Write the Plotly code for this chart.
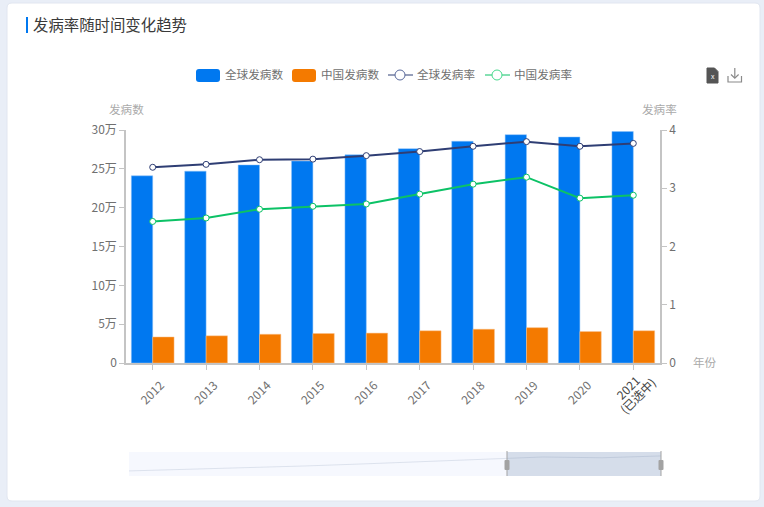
import plotly.graph_objects as go

years = ["2012", "2013", "2014", "2015", "2016", "2017", "2018", "2019", "2020", ""]
selected_year = ["2021", "(已选中)"]
global_cases = [241000, 247000, 255000, 260000, 268000, 276000, 285500, 294000, 291000, 298000]
china_cases = [33500, 35000, 37000, 38000, 38500, 41500, 43500, 45500, 40500, 41500]
global_rate = [3.36, 3.41, 3.49, 3.50, 3.56, 3.63, 3.72, 3.80, 3.72, 3.77]
china_rate = [2.43, 2.49, 2.64, 2.69, 2.73, 2.90, 3.07, 3.19, 2.83, 2.88]
left_ticks = [0, 50000, 100000, 150000, 200000, 250000, 300000]
left_labels = ["0", "5万", "10万", "15万", "20万", "25万", "30万"]
right_ticks = [0, 1, 2, 3, 4]

W, H = 764, 507
FONT = "Noto Sans CJK SC"
BLUE, ORANGE, NAVY, GREEN = "#0078f0", "#f47a00", "#2f3e74", "#0cc266"
AXIS = "#c4c4c4"
TXT = "#707070"

def px(x): return x / W
def py(y): return 1 - y / H

def rect(x0, y0, x1, y1, fill, layer="below"):
    return dict(type="rect", xref="paper", yref="paper", x0=px(x0), x1=px(x1), y0=py(y0), y1=py(y1),
                fillcolor=fill, line_width=0, layer=layer)

def line(x0, y0, x1, y1, color, width=1, layer="above"):
    return dict(type="line", xref="paper", yref="paper", x0=px(x0), x1=px(x1), y0=py(y0), y1=py(y1),
                line=dict(color=color, width=width), layer=layer)

def rounded(x0, y0, x1, y1, r, fill, layer="below", stroke=None):
    p = (f"M{px(x0+r)},{py(y0)} L{px(x1-r)},{py(y0)} Q{px(x1)},{py(y0)} {px(x1)},{py(y0+r)} "
         f"L{px(x1)},{py(y1-r)} Q{px(x1)},{py(y1)} {px(x1-r)},{py(y1)} "
         f"L{px(x0+r)},{py(y1)} Q{px(x0)},{py(y1)} {px(x0)},{py(y1-r)} "
         f"L{px(x0)},{py(y0+r)} Q{px(x0)},{py(y0)} {px(x0+r)},{py(y0)} Z")
    return dict(type="path", xref="paper", yref="paper", path=p, fillcolor=fill,
                line=dict(color=stroke or fill, width=1 if stroke else 0), layer=layer)

def poly(points, fill=None, color=None, width=1):
    p = "M" + " L".join(f"{px(x)},{py(y)}" for x, y in points)
    if fill:
        p += " Z"
    return dict(type="path", xref="paper", yref="paper", path=p, fillcolor=fill or "rgba(0,0,0,0)",
                line=dict(color=color or fill, width=width), layer="above")

def circle(cx, cy, r, stroke):
    return dict(type="circle", xref="paper", yref="paper", x0=px(cx-r), x1=px(cx+r), y0=py(cy-r), y1=py(cy+r),
                fillcolor="white", line=dict(color=stroke, width=1), layer="above")

def label(x, y, text, size=11.6, color=TXT, anchor="left", angle=0):
    return dict(xref="paper", yref="paper", x=px(x), y=py(y), text=text, showarrow=False, xanchor=anchor,
                yanchor="middle", font=dict(family=FONT, size=size, color=color), borderpad=0, borderwidth=0,
                textangle=angle)

fig = go.Figure()
fig.add_bar(x=list(range(10)), y=global_cases, name="全球发病数", marker=dict(color=BLUE, line=dict(color="#8cc2f8", width=0.5)))
fig.add_bar(x=list(range(10)), y=china_cases, name="中国发病数", marker=dict(color=ORANGE, line=dict(color="#f9c08c", width=0.5)))
marker = lambda c: dict(size=6, color="white", line=dict(color=c, width=1))
fig.add_scatter(x=list(range(10)), y=global_rate, name="全球发病率", yaxis="y2", mode="lines+markers",
                line=dict(color=NAVY, width=2), marker=marker(NAVY))
fig.add_scatter(x=list(range(10)), y=china_rate, name="中国发病率", yaxis="y2", mode="lines+markers",
                line=dict(color=GREEN, width=2), marker=marker(GREEN))
fig.add_scatter(x=list(range(10)), y=global_cases, xaxis="x3", yaxis="y3", mode="lines", hoverinfo="skip",
                line=dict(color="rgba(90,110,150,0.16)", width=1))

shapes = [
    rounded(7, 3, 760, 501, 5, "white", stroke="#e1e6f0"),
    rect(26, 17, 28, 33, BLUE),
    rounded(196, 69, 220, 82, 3, BLUE),
    rounded(292, 69, 316, 82, 3, ORANGE),
    line(388, 75, 413, 75, NAVY), circle(400, 75, 5, "#5a6a9c"),
    line(485, 75, 510, 75, GREEN), circle(497, 75, 5, "#45d98c"),
    # file icon
    poly([(707, 68), (714.5, 68), (718, 71.5), (718, 83), (707, 83)], fill="#555555"),
    # download icon
    poly([(728, 76), (728, 82), (741.5, 82), (741.5, 76)], color="#8a8a8a", width=1.2),
    poly([(734.8, 68), (734.8, 78)], color="#8a8a8a", width=1.2),
    poly([(731, 74.5), (734.8, 78.2), (738.6, 74.5)], color="#8a8a8a", width=1.2),
    # range selector
    rect(129, 452, 661, 476, "#f6f8fe"),
    rect(507, 452, 661, 476, "#d5ddea"),
    line(507, 451, 507, 476, "#a3a3a3"),
    line(661, 451, 661, 476, "#a3a3a3"),
    rounded(504.5, 460, 509.5, 470, 1, "#a3a3a3", layer="above"),
    rounded(658.5, 460, 663.5, 470, 1, "#a3a3a3", layer="above"),
]

annotations = [
    label(33, 24, "发病率随时间变化趋势", size=15.4, color="#3a3a3a"),
    label(225, 74.5, "全球发病数"), label(321, 74.5, "中国发病数"),
    label(417, 74.5, "全球发病率"), label(514, 74.5, "中国发病率"),
    label(126, 109, "发病数", color="#aaaaaa", anchor="center"),
    label(659, 109, "发病率", color="#aaaaaa", anchor="center"),
    label(693, 362, "年份", color="#aaaaaa"),
    label(712.5, 76, "x", size=7, color="white", anchor="center"),
    label(627, 387, selected_year[0], size=12, color="#444444", anchor="center", angle=-45),
    label(637, 395, selected_year[1], size=12, color="#444444", anchor="center", angle=-45),
]

ticks = dict(ticks="outside", ticklen=5, tickwidth=1, tickcolor=AXIS, showline=True, linecolor=AXIS,
             linewidth=1.5, showgrid=False, zeroline=False, automargin=False,
             tickfont=dict(family=FONT, size=12, color=TXT))

fig.update_layout(
    width=W, height=H, margin=dict(l=0, r=0, t=0, b=0), showlegend=False, autosize=False,
    paper_bgcolor="#e9eef7", plot_bgcolor="rgba(0,0,0,0)", barmode="group", bargap=0.2, bargroupgap=0,
    shapes=shapes, annotations=annotations,
    xaxis=dict(domain=[px(126), px(660)], range=[-0.5, 9.5], tickmode="array", tickvals=list(range(10)),
               ticktext=years, tickangle=-45, anchor="y", ticklabelshift=8, ticklabelstandoff=4, **ticks),
    yaxis=dict(domain=[py(363), py(130)], range=[0, 300000], tickmode="array", tickvals=left_ticks,
               ticktext=left_labels, anchor="x", **ticks),
    yaxis2=dict(domain=[py(363), py(130)], range=[0, 4], tickmode="array", tickvals=right_ticks,
                overlaying="y", side="right", anchor="x", **ticks),
    xaxis3=dict(domain=[px(129), px(661)], range=[0, 9], visible=False, anchor="y3", automargin=False),
    yaxis3=dict(domain=[py(476), py(452)], range=[221700, 313000], visible=False, anchor="x3", automargin=False),
)
fig.write_html("out.html", config={"displayModeBar": False},
               post_script="document.body.style.margin='0';document.body.style.background='#e9eef7';")
